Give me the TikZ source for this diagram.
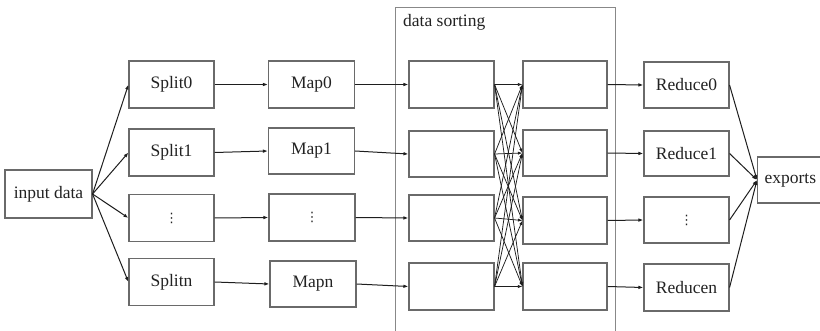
\documentclass[tikz,border=0pt]{standalone}
\usepackage{fontspec}
\setmainfont{Liberation Serif}
\newfontfamily\dvfont{DejaVu Sans}
\usetikzlibrary{arrows.meta}
\definecolor{boxgray}{HTML}{6A6A6A}
\definecolor{txt}{HTML}{222222}
\definecolor{arr}{HTML}{1E1E1E}
\newcommand{\vdts}{{\dvfont\fontsize{13}{15}\selectfont ⋮}}
\begin{document}
\begin{tikzpicture}[x=1pt,y=-1pt,
  box/.style={draw=boxgray,line width=1.1pt,rectangle,inner sep=0pt,text=txt,
    font=\fontsize{17.5}{20}\selectfont},
  conn/.style={draw=arr,line width=1pt,-{Latex[length=5pt,width=3.6pt]}},
  mesh/.style={draw=arr,line width=0.75pt,-{Latex[length=4.5pt,width=3.2pt]}}]
\useasboundingbox (0,0) rectangle (820,331);
% data sorting frame
\draw[draw=boxgray!80,line width=1pt] (395,345) -- (395,8) -- (615,8) -- (615,345);
\node[anchor=west,text=txt,font=\fontsize{17.5}{20}\selectfont,inner sep=0pt] (ds) at (403,22) {data sorting};
% input
\node[box,minimum width=87pt,minimum height=48pt] (in) at (48.5,194) {input data};
% splits
\node[box,minimum width=85pt,minimum height=47pt] (s0) at (171.5,84.5) {Split0};
\node[box,minimum width=85pt,minimum height=47pt] (s1) at (171.5,152.5) {Split1};
\node[box,minimum width=85pt,minimum height=47pt] (s2) at (171.5,218) {\vdts};
\node[box,minimum width=85pt,minimum height=47pt] (s3) at (171.5,282) {Splitn};
% maps
\node[box,minimum width=86pt,minimum height=47pt] (m0) at (311.5,84.5) {Map0};
\node[box,minimum width=86pt,minimum height=46pt] (m1) at (311.5,151) {Map1};
\node[box,minimum width=86pt,minimum height=47pt] (m2) at (312,217.5) {\vdts};
\node[box,minimum width=86pt,minimum height=46pt] (m3) at (313,284) {Mapn};
% sort left
\node[box,minimum width=85pt,minimum height=47pt] (a0) at (451.5,84.5) {};
\node[box,minimum width=85pt,minimum height=46pt] (a1) at (451.5,154) {};
\node[box,minimum width=85pt,minimum height=46pt] (a2) at (451.5,218) {};
\node[box,minimum width=85pt,minimum height=47pt] (a3) at (451.5,286.5) {};
% sort right
\node[box,minimum width=84pt,minimum height=47pt] (b0) at (565,84.5) {};
\node[box,minimum width=84pt,minimum height=46pt] (b1) at (565,153) {};
\node[box,minimum width=84pt,minimum height=47pt] (b2) at (565,220.5) {};
\node[box,minimum width=84pt,minimum height=47pt] (b3) at (565,286.5) {};
% reduce
\node[box,minimum width=85pt,minimum height=46pt] (r0) at (686.5,85) {Reduce0};
\node[box,minimum width=85pt,minimum height=45pt] (r1) at (686.5,153.5) {Reduce1};
\node[box,minimum width=85pt,minimum height=46pt] (r2) at (686.5,220) {\vdts};
\node[box,minimum width=85pt,minimum height=47pt] (r3) at (686.5,287.5) {Reducen};
% exports
\node[box,minimum height=46pt,anchor=west,inner xsep=7pt,text width=62pt,align=left] (ex) at (757,180) {exports};
% connectors
\foreach \i in {0,1,2,3}{
  \draw[conn] (in.east) -- (s\i.west);
  \draw[conn] (s\i.east) -- (m\i.west);
  \draw[conn] (m\i.east) -- (a\i.west);
  \draw[conn] (b\i.east) -- (r\i.west);
  \draw[conn] (r\i.east) -- (ex.west);
  \foreach \j in {0,1,2,3}{
    \draw[mesh] (a\i.east) -- (b\j.west);
  }
}
\end{tikzpicture}
\end{document}
